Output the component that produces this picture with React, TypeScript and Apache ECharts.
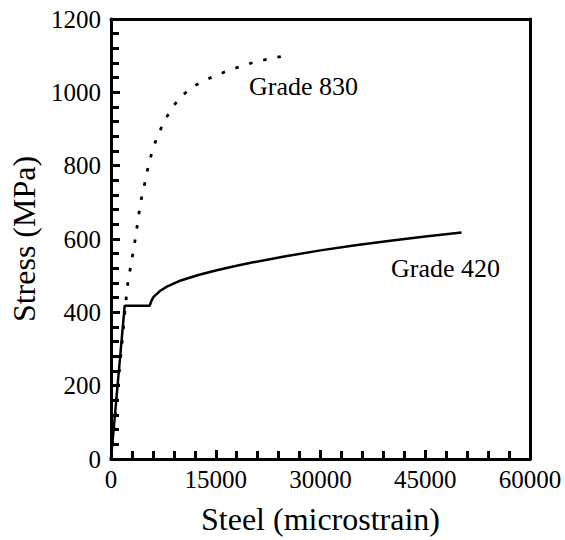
import React, { useEffect, useRef } from "react";
import * as echarts from "echarts";

const grade420Strain = [0, 1960, 5540, 5800, 6100, 7000, 8000, 10000, 12500, 15000, 17500, 20000, 25000, 30000, 35000, 40000, 45000, 50200];
const grade420Stress = [0, 418, 418, 432, 442, 458, 470, 487, 502, 514, 525, 535, 553, 569, 583, 595, 607, 618];

const grade830Strain = [0, 2340, 2910, 3290, 3630, 3960, 4340, 4820, 5300, 5910, 6630, 7590, 8640, 10070, 12050, 14180, 16330, 18570, 20860, 23150, 25390];
const grade830Stress = [0, 471, 536, 577, 620, 665, 709, 751, 795, 840, 880, 919, 955, 990, 1019, 1039, 1056, 1071, 1084, 1093, 1102];

const xTicks = [0, 15000, 30000, 45000, 60000];
const yTicks = [0, 200, 400, 600, 800, 1000, 1200];

const seriesNames = ["Grade 420", "Grade 830"];

const FONT = "Liberation Serif";

export default function App() {
  const ref = useRef<HTMLDivElement>(null);
  useEffect(() => {
    if (!ref.current) return;
    const chart = echarts.init(ref.current, null, { renderer: "svg" });
    const zip = (a: number[], b: number[]) => a.map((v, i) => [v, b[i]]);
    const frame = {
      axisLine: { show: true, onZero: false, lineStyle: { color: "#000", width: 3 } },
      axisTick: { show: false },
      axisLabel: { show: false },
      splitLine: { show: false },
    };
    const ticks = {
      axisLine: { show: true, onZero: false, lineStyle: { color: "#000", width: 3 } },
      axisTick: { show: true, inside: true, length: 9, lineStyle: { color: "#000", width: 3 } },
      minorTick: { show: true, splitNumber: 5, length: 8, lineStyle: { color: "#000", width: 3 } },
      splitLine: { show: false },
    };
    chart.setOption({
      animation: false,
      backgroundColor: "#fff",
      textStyle: { fontFamily: FONT },
      grid: { left: 111, right: 35, top: 19, bottom: 80, show: false },
      xAxis: [
        {
          type: "value",
          position: "bottom",
          min: xTicks[0],
          max: xTicks[xTicks.length - 1],
          interval: 15000,
          name: "Steel (microstrain)",
          nameLocation: "middle",
          nameGap: 44,
          nameTextStyle: { fontFamily: FONT, fontSize: 32, color: "#000" },
          ...ticks,
          axisLabel: { fontFamily: FONT, fontSize: 25, color: "#000", margin: 8, formatter: (v: number) => String(v) },
        },
        { type: "value", position: "top", min: xTicks[0], max: xTicks[xTicks.length - 1], ...frame },
      ],
      yAxis: [
        {
          type: "value",
          position: "left",
          min: yTicks[0],
          max: yTicks[yTicks.length - 1],
          interval: 200,
          name: "Stress (MPa)",
          nameLocation: "middle",
          nameGap: 66,
          nameTextStyle: { fontFamily: FONT, fontSize: 32, color: "#000" },
          ...ticks,
          axisLabel: { fontFamily: FONT, fontSize: 25, color: "#000", margin: 10, formatter: (v: number) => String(v) },
        },
        { type: "value", position: "right", min: yTicks[0], max: yTicks[yTicks.length - 1], ...frame },
      ],
      series: [
        { name: seriesNames[0], type: "line", data: zip(grade420Strain, grade420Stress), showSymbol: false, lineStyle: { color: "#000", width: 2.5 } },
        { name: seriesNames[1], type: "line", data: zip(grade830Strain, grade830Stress), showSymbol: false, lineStyle: { color: "#000", width: 2.8, type: [3.5, 11] } },
      ],
      graphic: [
        { type: "text", x: 249, y: 86, style: { text: seriesNames[1], font: `26px "${FONT}"`, fill: "#000", align: "left", verticalAlign: "middle" } },
        { type: "text", x: 391, y: 268, style: { text: seriesNames[0], font: `26px "${FONT}"`, fill: "#000", align: "left", verticalAlign: "middle" } },
      ],
    });
    return () => chart.dispose();
  }, []);
  return <div ref={ref} style={{ position: "fixed", left: 0, top: 0, width: 565, height: 540 }} />;
}
